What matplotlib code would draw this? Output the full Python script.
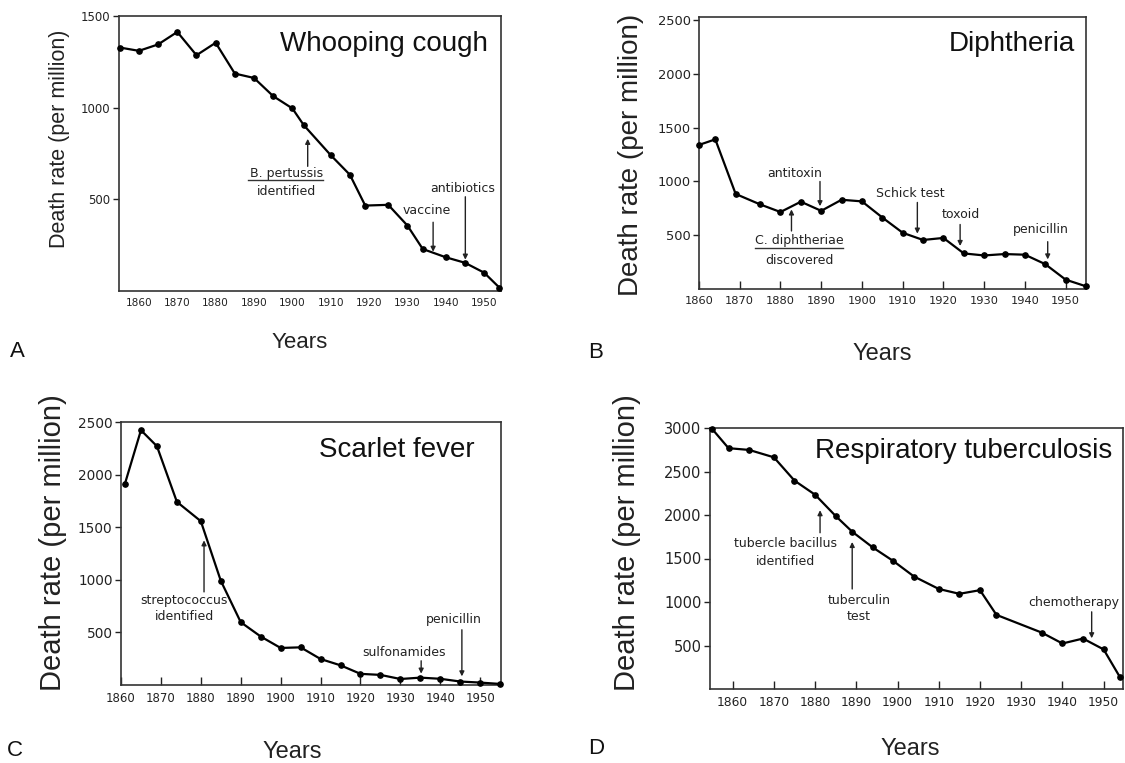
import matplotlib
matplotlib.use('Agg')
import matplotlib.pyplot as plt

# ---------------- data ----------------
A_years = [1855, 1860, 1865, 1870, 1875, 1880, 1885, 1890, 1895, 1900, 1903, 1910,
           1915, 1919, 1925, 1930, 1934, 1940, 1945, 1950, 1954]
A_vals = [1328, 1310, 1345, 1413, 1286, 1354, 1186, 1162, 1063, 996, 904, 741,
          634, 466, 470, 357, 229, 184, 154, 100, 18]

B_years = [1860, 1864, 1869, 1875, 1880, 1885, 1890, 1895, 1900, 1905, 1910, 1915,
           1920, 1925, 1930, 1935, 1940, 1945, 1950, 1955]
B_vals = [1340, 1392, 884, 787, 716, 812, 727, 830, 815, 665, 523, 456,
          475, 331, 312, 325, 319, 231, 87, 25]

C_years = [1861, 1865, 1869, 1874, 1880, 1885, 1890, 1895, 1900, 1905, 1910, 1915,
           1920, 1925, 1930, 1935, 1940, 1945, 1950, 1955]
C_vals = [1915, 2422, 2270, 1741, 1557, 991, 597, 461, 352, 358, 247, 187,
          106, 96, 57, 70, 59, 33, 23, 10]

D_years = [1855, 1859, 1864, 1870, 1875, 1880, 1885, 1889, 1894, 1899, 1904, 1910,
           1915, 1920, 1924, 1935, 1940, 1945, 1950, 1954]
D_vals = [2990, 2768, 2748, 2663, 2395, 2233, 1988, 1808, 1627, 1470, 1293, 1150,
          1094, 1136, 852, 648, 523, 580, 455, 133]

x_ticks = [1860, 1870, 1880, 1890, 1900, 1910, 1920, 1930, 1940, 1950]
A_yticks = [500, 1000, 1500]
B_yticks = [500, 1000, 1500, 2000, 2500]
C_yticks = [500, 1000, 1500, 2000, 2500]
D_yticks = [500, 1000, 1500, 2000, 2500, 3000]

titles = ["Whooping cough", "Diphtheria", "Scarlet fever", "Respiratory tuberculosis"]
panel_letters = ["A", "B", "C", "D"]
ylabel_text = "Death rate (per million)"
xlabel_text = "Years"

# annotation texts: (text, x, y)
A_texts = [("B. pertussis", 1898.5, 640), ("identified", 1898.5, 545),
           ("vaccine", 1935, 440), ("antibiotics", 1944.5, 560)]
A_underlines = [(1888.5, 1908, 604)]
A_arrows = [(1904, 680, 830), (1936.7, 375, 214), (1945.1, 514, 171)]

B_texts = [("antitoxin", 1883.4, 1075), ("C. diphtheriae", 1884.6, 450),
           ("discovered", 1884.6, 265), ("Schick test", 1911.8, 885),
           ("toxoid", 1924.3, 690), ("penicillin", 1944, 550)]
B_underlines = [(1873.7, 1895.4, 384)]
B_arrows = [(1889.7, 1000, 770), (1882.7, 540, 740), (1913.6, 805, 515),
            (1924.1, 600, 400), (1945.6, 440, 275)]

C_texts = [("streptococcus", 1875.8, 803), ("identified", 1875.8, 650),
           ("sulfonamides", 1931, 306), ("penicillin", 1943.5, 620)]
C_underlines = []
C_arrows = [(1880.8, 885, 1375), (1935.2, 230, 108), (1945.4, 525, 82)]

D_texts = [("tubercle bacillus", 1872.8, 1670), ("identified", 1872.8, 1470),
           ("tuberculin", 1890.6, 1020), ("test", 1890.6, 835),
           ("chemotherapy", 1942.7, 990)]
D_underlines = []
D_arrows = [(1881.2, 1796, 2055), (1889, 1150, 1690), (1947.1, 887, 583)]

# ---------------- layout ----------------
W, H = 1125, 763
fig = plt.figure(figsize=(W / 100, H / 100), dpi=100)


def box(l, r, t, b):
    return [l / W, 1 - b / H, (r - l) / W, (b - t) / H]


TXT = ['Liberation Sans', 'DejaVu Sans']
TICKF = ['DejaVu Sans']

panels = [
    dict(pos=box(119, 501, 16, 291), years=A_years, vals=A_vals, xlim=(1854.8, 1954.4),
         ylim=(0, 1500), yticks=A_yticks, texts=A_texts, unders=A_underlines, arrows=A_arrows,
         title_xy=(1951, 1347), xtick_len=0, ytfs=8.5, xtfs=7.6,
         ylab=(59, 139, 15.5), letter=(17, 352), years_xy=(300, 343, 16)),
    dict(pos=box(699, 1086, 17, 289), years=B_years, vals=B_vals, xlim=(1860, 1955),
         ylim=(0, 2530), yticks=B_yticks, texts=B_texts, unders=B_underlines, arrows=B_arrows,
         title_xy=(1952.4, 2278), xtick_len=6, ytfs=9.4, xtfs=8.2,
         ylab=(631, 155, 20), letter=(596, 353), years_xy=(882, 354, 17)),
    dict(pos=box(121, 501, 422, 685), years=C_years, vals=C_vals, xlim=(1860, 1955.2),
         ylim=(0, 2500), yticks=C_yticks, texts=C_texts, unders=C_underlines, arrows=C_arrows,
         title_xy=(1948.5, 2230), xtick_len=6, ytfs=9.8, xtfs=8.5,
         ylab=(53, 543, 21), letter=(15, 750), years_xy=(292, 752, 17)),
    dict(pos=box(710, 1123, 428, 689), years=D_years, vals=D_vals, xlim=(1854.5, 1954.7),
         ylim=(0, 3000), yticks=D_yticks, texts=D_texts, unders=D_underlines, arrows=D_arrows,
         title_xy=(1952.2, 2736), xtick_len=6, ytfs=10.5, xtfs=8.8,
         ylab=(627, 543, 21), letter=(596, 748), years_xy=(910, 749, 17)),
]

for i, p in enumerate(panels):
    ax = fig.add_axes(p['pos'])
    ax.plot(p['years'], p['vals'], color='black', lw=1.6, marker='o', ms=3.8,
            solid_joinstyle='miter', zorder=3, clip_on=False)
    ax.set_xlim(*p['xlim'])
    ax.set_ylim(*p['ylim'])
    ax.set_xticks(x_ticks)
    ax.set_yticks(p['yticks'])
    ax.set_xticklabels([str(v) for v in x_ticks], fontsize=p['xtfs'], family=TICKF)
    ax.set_yticklabels([str(v) for v in p['yticks']], fontsize=p['ytfs'], family=TICKF)
    ax.tick_params(axis='x', direction='in', length=p['xtick_len'], width=1.0, pad=5,
                   colors='#222222')
    ax.tick_params(axis='y', direction='out', length=4, width=1.0, pad=2, colors='#222222')
    for s in ax.spines.values():
        s.set_linewidth(1.2)
        s.set_color('#333333')
    # title inside plot
    ax.text(p['title_xy'][0], p['title_xy'][1], titles[i], ha='right', va='center',
            fontsize=20, family=TXT, color='#111111')
    # annotations
    for t, x, y in p['texts']:
        ax.text(x, y, t, ha='center', va='center', fontsize=9, family=TICKF, color='#222222')
    for x0, x1, y in p['unders']:
        ax.plot([x0, x1], [y, y], color='#333333', lw=1.0)
    for x, y0, y1 in p['arrows']:
        ax.annotate('', xy=(x, y1), xytext=(x, y0),
                    arrowprops=dict(arrowstyle='-|>', color='#222222', lw=1.0,
                                    mutation_scale=7, shrinkA=0, shrinkB=0))
    # y label, panel letter, x label (figure pixel coords)
    lx, ly, lfs = p['ylab']
    fig.text(lx / W, 1 - ly / H, ylabel_text, rotation=90, ha='center', va='center',
             fontsize=lfs, family=TXT, color='#222222')
    fig.text(p['letter'][0] / W, 1 - p['letter'][1] / H, panel_letters[i], ha='center',
             va='center', fontsize=16, family=TXT, color='#111111')
    yx, yy, yfs = p['years_xy']
    fig.text(yx / W, 1 - yy / H, xlabel_text, ha='center', va='center', fontsize=yfs,
             family=TXT, color='#222222')

fig.savefig('out.png', dpi=100, facecolor='white')
